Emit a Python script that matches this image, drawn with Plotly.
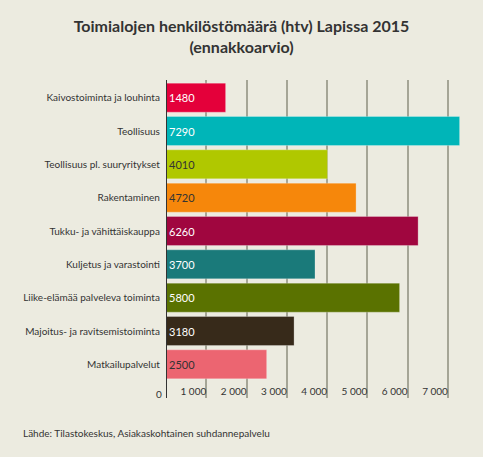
import plotly.graph_objects as go

categories = [
    "Kaivostoiminta ja louhinta",
    "Teollisuus",
    "Teollisuus pl. suuryritykset",
    "Rakentaminen",
    "Tukku- ja vähittäiskauppa",
    "Kuljetus ja varastointi",
    "Liike-elämää palveleva toiminta",
    "Majoitus- ja ravitsemistoiminta",
    "Matkailupalvelut",
]
values = [1480, 7290, 4010, 4720, 6260, 3700, 5800, 3180, 2500]
colors = ["#e4003a", "#00b5b8", "#b0c800", "#f6870b", "#a0063f",
          "#1a7a7a", "#5a7200", "#372a1a", "#ec6571"]
label_colors = ["#ffffff", "#ffffff", "#333333", "#333333", "#ffffff",
                "#ffffff", "#ffffff", "#ffffff", "#333333"]
tick_vals = [0, 1000, 2000, 3000, 4000, 5000, 6000, 7000]
tick_text = ["0", "1 000", "2 000", "3 000", "4 000", "5 000", "6 000", "7 000"]

FONT = "Lato"
BG = "#ecebe0"

fig = go.Figure()
fig.add_trace(go.Bar(
    x=values, y=categories, orientation="h",
    marker=dict(color=colors, line=dict(color="rgba(255,255,255,0.25)", width=1)),
    text=[str(v) for v in values],
    textposition="inside", insidetextanchor="start",
    textfont=dict(family=FONT, size=11, color=label_colors),
    cliponaxis=False,
    hoverinfo="x+y",
))

fig.update_layout(
    width=483, height=457,
    paper_bgcolor=BG, plot_bgcolor=BG,
    margin=dict(l=166, r=23, t=80, b=59, autoexpand=False),
    bargap=0.13,
    showlegend=False,
    font=dict(family=FONT, size=11, color="#333333"),
    title=dict(
        text="Toimialojen henkilöstömäärä (htv) Lapissa 2015<br>(ennakkoarvio)",
        x=0.5, xanchor="center", y=0.929, yanchor="middle",
        font=dict(family=FONT, size=16, color="#333333", weight="bold"),
    ),
    xaxis=dict(
        range=[0, 7300],
        tickvals=tick_vals, ticktext=tick_text,
        showgrid=True, gridcolor="#a5a596", gridwidth=1.5,
        zeroline=False, showline=False,
        ticks="", ticklabelposition="inside left",
        ticklabelstandoff=-5,
        tickfont=dict(family=FONT, size=10, color="#333333"),
        automargin=False,
        fixedrange=True,
    ),
    yaxis=dict(
        categoryorder="array", categoryarray=categories,
        range=[9.01, -0.53],
        showgrid=False, zeroline=False,
        showline=False, ticks="",
        ticksuffix="  ",
        tickfont=dict(family=FONT, size=10, color="#333333"),
        automargin=False,
        fixedrange=True,
    ),
)

fig.add_shape(type="line", xref="x", yref="paper", x0=0, x1=0, y0=0, y1=1,
              line=dict(color="#333333", width=2), layer="above")

fig.add_annotation(text=tick_text[0], xref="x", yref="paper", x=tick_vals[0], y=0.0,
                   xanchor="right", yanchor="bottom", xshift=-2, yshift=-4, showarrow=False,
                   font=dict(family=FONT, size=10, color="#333333"))

fig.add_annotation(text="Lähde: Tilastokeskus, Asiakaskohtainen suhdannepalvelu",
                   xref="paper", yref="paper", x=-145/294, y=-35/318,
                   xanchor="left", yanchor="middle", showarrow=False,
                   font=dict(family=FONT, size=10, color="#333333"))

fig.write_html("out.html", post_script="document.body.style.margin='0';",
               config={"displayModeBar": False})
